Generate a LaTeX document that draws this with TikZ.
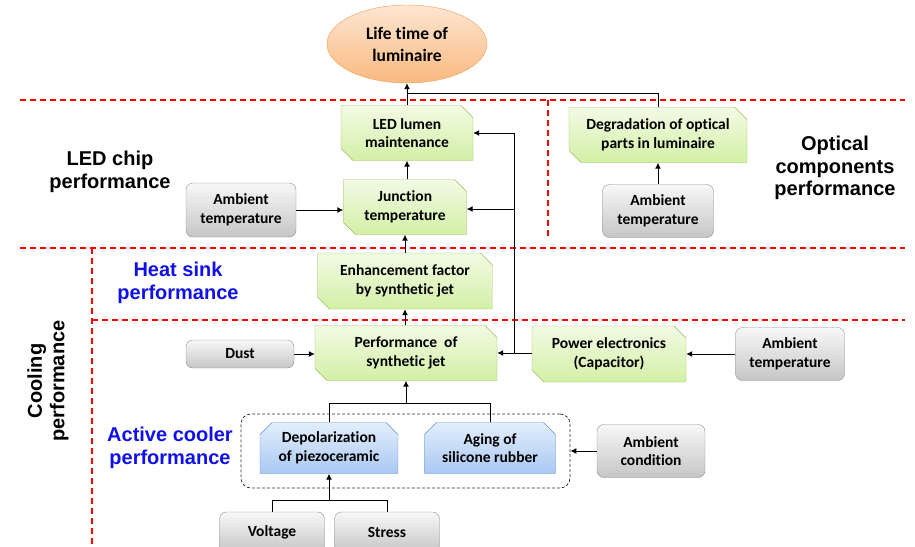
\documentclass[tikz,border=0pt]{standalone}
\usepackage{fontspec}
\setmainfont{Carlito}
\newfontfamily\carl[Ligatures=NoCommon]{Carlito}
\newfontfamily\arialb{Liberation Sans}
\usetikzlibrary{shapes.misc,shapes.geometric,arrows.meta}
\definecolor{grnB}{HTML}{9BBB59}
\definecolor{grnT}{HTML}{F2FBE4}
\definecolor{grnD}{HTML}{D3EFA6}
\definecolor{bluB}{HTML}{5B8FD0}
\definecolor{bluT}{HTML}{E3EEFC}
\definecolor{bluD}{HTML}{A9C8F2}
\definecolor{gryB}{HTML}{8C8C8C}
\definecolor{gryT}{HTML}{F7F7F7}
\definecolor{gryD}{HTML}{C6C6C6}
\definecolor{orgB}{HTML}{F59D56}
\definecolor{orgT}{HTML}{FDE6D2}
\definecolor{orgD}{HTML}{F9B97F}
\definecolor{lblue}{HTML}{1010E8}
\newcommand{\boxfont}{\carl\bfseries\fontsize{15.5}{18.5}\selectfont}
\newcommand{\ellfont}{\carl\bfseries\fontsize{17.5}{22}\selectfont}
\begin{document}
\begin{tikzpicture}[x=1pt,y=-1pt,
  txtstyle/.style={font=\boxfont,align=center,text=black},
  gbox/.style={txtstyle,chamfered rectangle,chamfered rectangle corners={north east,south west},chamfered rectangle xsep=6pt,chamfered rectangle ysep=6pt,draw=grnB,top color=grnT,bottom color=grnD,inner sep=0pt},
  bbox/.style={txtstyle,chamfered rectangle,chamfered rectangle corners={north east,north west},chamfered rectangle xsep=6pt,chamfered rectangle ysep=6pt,draw=bluB,top color=bluT,bottom color=bluD,inner sep=0pt},
  ybox/.style={txtstyle,rectangle,rounded corners=7pt,draw=gryB,top color=gryT,bottom color=gryD,inner sep=0pt},
  rdash/.style={draw=red,line width=1.2pt,dash pattern=on 6pt off 4pt},
  conn/.style={draw=black,line width=1pt},
  arr/.style={conn,-{Latex[length=6pt,width=6pt]}},
  lab/.style={font=\arialb\bfseries\fontsize{20}{22.5}\selectfont,align=center},
]
\useasboundingbox (0,0) rectangle (915,546);

% region lines
\draw[rdash] (20,100) -- (905,100);
\draw[rdash] (548,100) -- (548,240);
\draw[rdash] (20,248) -- (905,248);
\draw[rdash] (92,248) -- (92,546);
\draw[rdash] (92,320) -- (905,320);

% region labels
\node[lab] (llc) at (110,172) {LED chip\\performance};
\node[lab] (loc) at (835,168) {Optical\\components\\performance};
\node[lab,text=lblue] (lhs) at (178,283) {Heat sink\\performance};
\node[lab,text=lblue] (lac) at (170,448) {Active cooler\\performance};
\node[lab,rotate=90] (lcp) at (48,381) {Cooling\\performance};

% nodes
\node[ellipse,txtstyle,font=\ellfont,draw=orgB,top color=orgT,bottom color=orgD,minimum width=160pt,minimum height=78pt,inner sep=0pt] (life) at (407,44) {Life time of\\luminaire};

\node[gbox,minimum width=132pt,minimum height=55pt] (led) at (407,133) {LED lumen\\maintenance};
\node[gbox,minimum width=123pt,minimum height=55pt] (jt) at (405,207) {Junction\\temperature};
\node[gbox,minimum width=178pt,minimum height=55pt] (deg) at (658,135) {Degradation of optical\\parts in luminaire};
\node[gbox,minimum width=175pt,minimum height=56pt] (enh) at (405,281) {Enhancement factor\\by synthetic jet};
\node[gbox,minimum width=182pt,minimum height=55pt] (pj) at (406,353) {Performance\ \ of\\synthetic jet};
\node[gbox,minimum width=154pt,minimum height=56pt] (pe) at (609,354) {Power electronics\\(Capacitor)};

\node[ybox,minimum width=110pt,minimum height=54pt] (at1) at (241,210) {Ambient\\temperature};
\node[ybox,minimum width=111pt,minimum height=53pt] (at2) at (658,211) {Ambient\\temperature};
\node[ybox,minimum width=108pt,minimum height=28pt] (dust) at (240,354) {Dust};
\node[ybox,minimum width=109pt,minimum height=53pt] (at3) at (790,354) {Ambient\\temperature};
\node[ybox,minimum width=108pt,minimum height=53pt] (ac) at (651,451) {Ambient\\condition};
\node[ybox,minimum width=105pt,minimum height=40pt] (volt) at (272,532) {Voltage};
\node[ybox,minimum width=105pt,minimum height=40pt] (stress) at (387,532) {Stress};

\node[bbox,minimum width=138pt,minimum height=51pt] (dep) at (329,448) {Depolarization\\of piezoceramic};
\node[bbox,minimum width=131pt,minimum height=51pt] (age) at (490,448) {Aging of\\silicone rubber};

\node[draw=black!80,line width=0.8pt,dash pattern=on 3pt off 2pt,rounded corners=10pt,minimum width=329pt,minimum height=74pt,inner sep=0pt] (grp) at (405.5,451) {};

% connectors
\coordinate (j1) at (407,93);
\draw[conn] (deg.north) |- (j1);
\draw[arr] (led.north) -- (life.south);
\draw[arr] (jt.north -| led.south) -- (led.south);
\draw[arr] (at1.east) -- (at1.east -| jt.west);
\draw[arr] (enh.north) -- (jt.south);
\draw[arr] (pj.north -| enh.south) -- (enh.south);
\draw[arr] (at2.north) -- (deg.south);

\coordinate (pjx) at (514,353);
\draw[conn] (pe.west |- pjx) -- (pjx);
\draw[arr] (pjx) -- (pj.east |- pjx);
\draw[arr] (pjx) |- (led.east);
\coordinate (jtx) at (514,209);
\draw[arr] (jtx) -- (jt.east |- jtx);
\draw[arr] (at3.west) -- (at3.west -| pe.east);
\draw[arr] (dust.east) -- (dust.east -| pj.west);

\coordinate (top1) at (406,403);
\draw[conn] (dep.north) |- (top1);
\draw[conn] (age.north) |- (top1);
\draw[arr] (top1) -- (top1 |- pj.south);

\draw[arr] (ac.west) -- (ac.west -| grp.east);

\coordinate (bot1) at (329,500);
\draw[conn] (volt.north) |- (bot1);
\draw[conn] (stress.north) |- (bot1);
\draw[arr] (bot1) -- (dep.south);
\end{tikzpicture}
\end{document}
